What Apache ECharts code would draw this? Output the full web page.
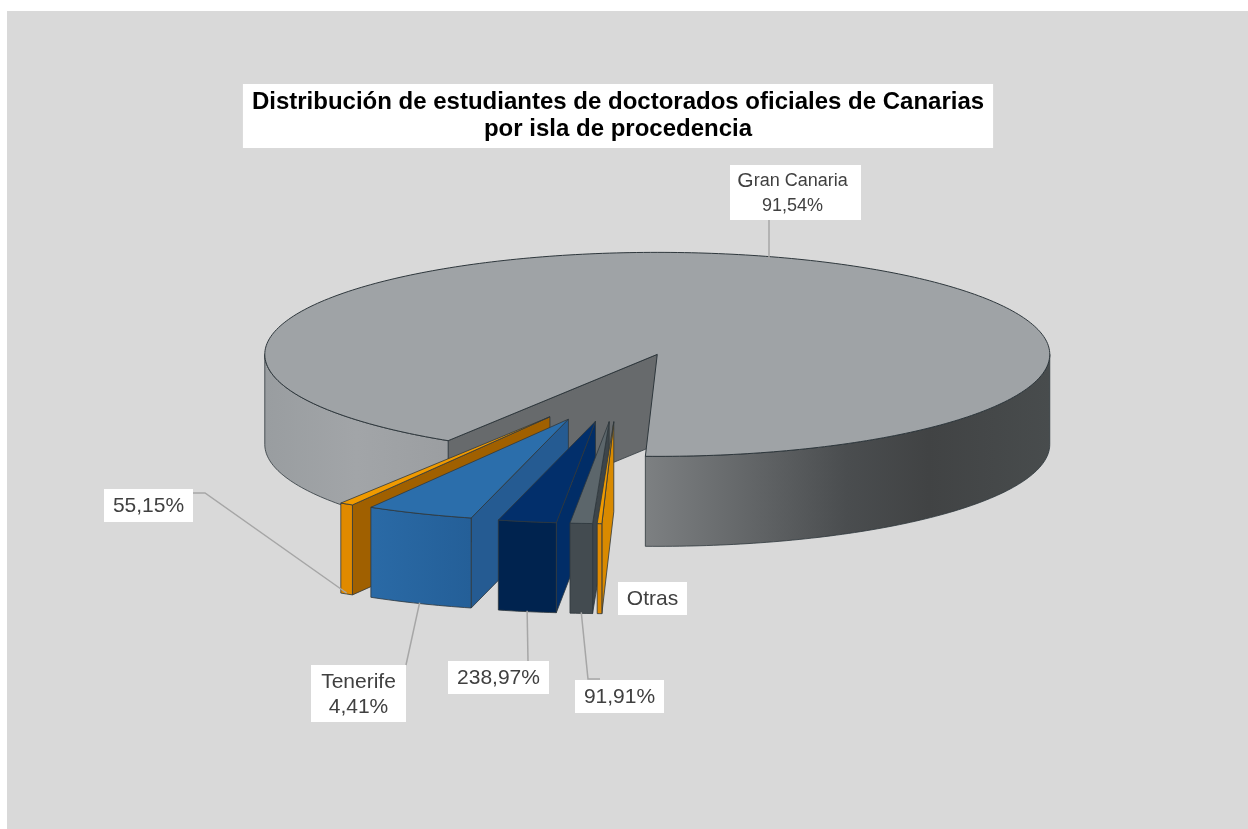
<!DOCTYPE html>
<html><head><meta charset="utf-8">
<style>html,body{margin:0;padding:0;background:#fff}#c{width:1248px;height:829px}</style>
<script src="https://cdn.jsdelivr.net/npm/echarts@6/dist/echarts.min.js"></script>
</head><body><div id="c"></div>
<script>
// ---- data ----
var titleText = 'Distribución de estudiantes de doctorados oficiales de Canarias\npor isla de procedencia';
var sliceNames = ['Gran Canaria', 'Orange', 'Tenerife', 'DarkBlue', 'Grey', 'Otras'];
var sliceShares = [91.54, 0.5515, 4.41, 2.3897, 0.9191, 0.19];
var sliceLabels = ['Gran Canaria\n91,54%', '55,15%', 'Tenerife\n4,41%', '238,97%', '91,91%', 'Otras'];

// ---- layout and style ----
var view = {cx: 618.6, cy: 387.3, rx: 392.5, ry: 102, depth: 90, explode: 0.3376, startDeg: 361.74};
var labelBoxes = [[730, 165, 131, 55], [104, 489, 89, 33], [311, 665, 95, 57], [448, 661, 101, 33], [575, 680, 89, 33], [618, 582, 69, 33]];
var leaderVia = [null, [205, 493], null, null, [588, 679], null];
var leaderEnd = [[769, 220], [193, 493], [406, 665], [528, 661], [600, 679], null];
var palette = [
  {top: '#9FA3A6', side: '#676A6C', front: [[0, '#999DA0'], [0.5, '#A2A5A8'], [1, '#9B9EA1']]},
  {top: '#F09A00', side: '#A06000', front: [[0, '#E08A00'], [1, '#E08A00']]},
  {top: '#2B6EAB', side: '#255B92', front: [[0, '#2A6AA6'], [1, '#245F98']]},
  {top: '#022F6B', side: '#012D67', front: [[0, '#00234F'], [1, '#00234F']]},
  {top: '#5C666B', side: '#3D454A', front: [[0, '#434B50'], [1, '#434B50']]},
  {top: '#F09A00', side: '#D98A00', front: [[0, '#E08A00'], [1, '#E08A00']]}
];
var gcRightFront = [[0, '#7D8082'], [0.5, '#4A4D4F'], [0.7, '#414344'], [1, '#484C4D']];
var edge = '#2E373C';
var FONT = '"Liberation Sans", Arial, sans-serif';

// ---- geometry derived from the shares ----
var total = sliceShares.reduce(function (a, b) { return a + b; }, 0);
var rad = Math.PI / 180;
var spans = [], run = view.startDeg;
sliceShares.forEach(function (v) {
  var sweep = v / total * 360;
  spans.push([run, run - sweep]);
  run -= sweep;
});
function apexOf(i) {
  var m = (spans[i][0] + spans[i][1]) / 2 * rad;
  return [view.cx - Math.sin(m) * view.rx * view.explode, view.cy + Math.cos(m) * view.ry * view.explode];
}
function rim(a, deg, dy) {
  return [a[0] - Math.sin(deg * rad) * view.rx, a[1] + Math.cos(deg * rad) * view.ry + (dy || 0)];
}
function arc(a, from, to, dy) {
  var pts = [], n = Math.max(2, Math.ceil(Math.abs(from - to))), k;
  for (k = 0; k <= n; k++) pts.push(rim(a, from + (to - from) * k / n, dy));
  return pts;
}
function wall(a, from, to) {
  return arc(a, from, to, 0).concat(arc(a, to, from, view.depth));
}
function poly(points, fill, w) {
  return {type: 'polygon', shape: {points: points}, style: {fill: fill, stroke: edge, lineWidth: w || 0.8, lineJoin: 'round'}};
}
function hGrad(x0, x1, stops) {
  return new echarts.graphic.LinearGradient(x0, 0, x1, 0, stops.map(function (s) { return {offset: s[0], color: s[1]}; }), true);
}
function bounds(pts) {
  var xs = pts.map(function (p) { return p[0]; });
  return [Math.min.apply(null, xs), Math.max.apply(null, xs)];
}
function renderSlice(params) {
  var i = params.dataIndex, a = apexOf(i), s = spans[i], p = palette[i], kids = [], b;
  if (i === 0) {
    var inner = [rim(a, s[1]), a, [a[0], a[1] + view.depth], rim(a, s[1], view.depth)];
    kids.push(poly(inner, p.side));
    var wr = wall(a, s[0], 360 - 90);
    b = bounds(wr);
    kids.push(poly(wr, hGrad(b[0], b[1], gcRightFront)));
    var wl = wall(a, 90, s[1]);
    b = bounds(wl);
    kids.push(poly(wl, hGrad(b[0], b[1], p.front)));
  } else {
    var c1 = rim(a, s[1]);
    kids.push(poly([c1, a, [a[0], a[1] + view.depth], [c1[0], c1[1] + view.depth]], p.side));
    var w = wall(a, s[1], s[0]);
    b = bounds(w);
    kids.push(poly(w, hGrad(b[0], b[1], p.front)));
  }
  kids.push(poly([a].concat(arc(a, s[1], s[0], 0)), p.top, i === 0 ? 1 : 0.8));
  return {type: 'group', children: kids};
}
function renderLabel(params) {
  var i = params.dataIndex, a = apexOf(i), s = spans[i], box = labelBoxes[i], kids = [];
  var m = (s[0] + s[1]) / 2;
  if (leaderEnd[i]) {
    var anchor = i === 0 ? rim(a, m, 0) : rim(a, m, view.depth);
    anchor = i === 0 ? [leaderEnd[i][0], anchor[1] + 2] : [anchor[0], anchor[1] - 1];
    var line = [anchor];
    if (leaderVia[i]) line.push(leaderVia[i]);
    line.push(leaderEnd[i]);
    kids.push({type: 'polyline', shape: {points: line}, style: {fill: null, stroke: '#A6A6A6', lineWidth: 1.5}});
  }
  kids.push({type: 'rect', shape: {x: box[0], y: box[1], width: box[2], height: box[3]}, style: {fill: '#fff'}});
  var style = {
    text: sliceLabels[i], x: box[0] + box[2] / 2, y: box[1] + box[3] / 2 + 1,
    align: 'center', verticalAlign: 'middle', fill: '#404040',
    fontFamily: FONT, fontSize: 21, lineHeight: 25
  };
  if (i === 0) {
    style.x = box[0] + box[2] / 2 - 3;
    style.text = '{g|G}{n|ran Canaria}\n{v|91,54%}';
    style.rich = {
      g: {fontFamily: FONT, fontSize: 21, fill: '#404040', lineHeight: 25},
      n: {fontFamily: FONT, fontSize: 18, fill: '#404040', lineHeight: 25},
      v: {fontFamily: FONT, fontSize: 18, fill: '#404040', lineHeight: 25}
    };
  }
  kids.push({type: 'text', style: style});
  return {type: 'group', children: kids};
}
var rows = sliceNames.map(function (n, i) { return {name: n, value: sliceShares[i]}; });
var chart = echarts.init(document.getElementById('c'), null, {renderer: 'canvas'});
chart.setOption({
  animation: false,
  backgroundColor: '#fff',
  graphic: [{type: 'rect', z: -10, silent: true, shape: {x: 7, y: 11, width: 1241, height: 818}, style: {fill: '#D9D9D9'}}],
  title: {
    text: titleText, left: 609, top: 84, backgroundColor: '#fff', padding: [5, 9, 5, 9],
    textAlign: 'center',
    textStyle: {fontFamily: FONT, fontSize: 24, fontWeight: 'bold', color: '#000', lineHeight: 27}
  },
  tooltip: {show: false},
  series: [
    {type: 'custom', name: 'slices', coordinateSystem: 'none', silent: true, clip: false, z: 2, data: rows, renderItem: renderSlice},
    {type: 'custom', name: 'labels', coordinateSystem: 'none', silent: true, clip: false, z: 3, data: rows, renderItem: renderLabel}
  ]
});
</script></body></html>
